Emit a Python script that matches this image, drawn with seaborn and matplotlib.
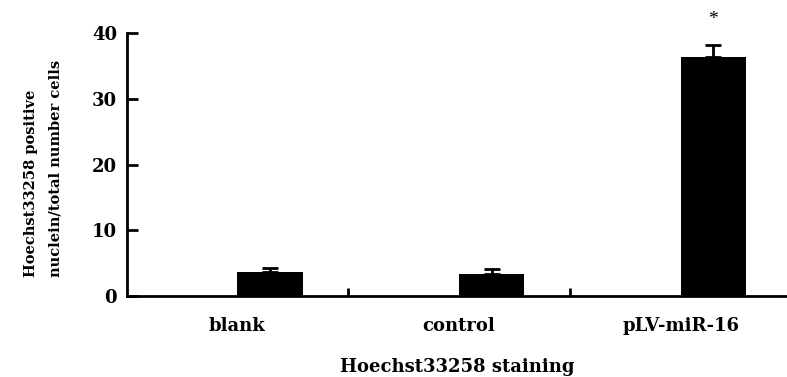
import numpy as np
import pandas as pd
import matplotlib
matplotlib.use("Agg")
import matplotlib.pyplot as plt
import seaborn as sns

# values
groups = ["blank", "control", "pLV-miR-16"]
ratio_mean = [3.65, 3.35, 36.3]
ratio_err = [0.6, 0.7, 1.9]
marks = ["", "", "*"]

sns.set_theme(style="white")
plt.rcParams["font.family"] = ["DejaVu Serif"]
plt.rcParams["font.weight"] = "bold"
plt.rcParams["text.color"] = "black"
plt.rcParams["axes.labelcolor"] = "black"

# the figure places each bar in the right half of its category slot,
# so an empty first hue level keeps the left half free
df = pd.DataFrame({
    "group": groups * 2,
    "slot": ["pad"] * 3 + ["value"] * 3,
    "ratio": [0.0] * 3 + ratio_mean,
})

fig = plt.figure(figsize=(7.87, 3.77), dpi=100)
ax = fig.add_axes([0.161, 0.215, 0.839, 0.697])

sns.barplot(
    data=df, x="group", y="ratio", hue="slot", hue_order=["pad", "value"],
    order=groups, palette={"pad": "white", "value": "black"},
    width=0.59, errorbar=None, legend=False, linewidth=0, ax=ax,
)

bars = [p for p in ax.patches if p.get_height() > 0]
bars.sort(key=lambda p: p.get_x())
centers = [p.get_x() + p.get_width() / 2 for p in bars]

ax.errorbar(
    centers, ratio_mean, yerr=[[0] * 3, ratio_err], fmt="none",
    ecolor="black", elinewidth=2, capsize=6, capthick=2, zorder=1,
)
for cx, m, e, s in zip(centers, ratio_mean, ratio_err, marks):
    if s:
        ax.annotate(s, (cx, m + e), xytext=(0, 12), textcoords="offset points",
                    ha="center", va="bottom", fontsize=14, fontweight="normal",
                    family="Liberation Serif", annotation_clip=False)

ax.set_xlim(-0.5, 2.48)
ax.set_ylim(0, 40)
ax.set_yticks([0, 10, 20, 30, 40])
ax.set_xticks([0, 1, 2])
ax.set_xticklabels(groups)
ax.set_xticks([0.5, 1.5], minor=True)

for side in ["top", "right"]:
    ax.spines[side].set_visible(False)
for side in ["left", "bottom"]:
    ax.spines[side].set_linewidth(2)
    ax.spines[side].set_color("black")

ax.tick_params(axis="y", which="major", direction="in", length=8, width=2,
               labelsize=13, pad=7, colors="black", left=True)
ax.tick_params(axis="x", which="major", length=0, labelsize=13, pad=15,
               colors="black")
ax.tick_params(axis="x", which="minor", direction="in", length=6, width=2,
               bottom=True, colors="black")
for lab in ax.get_xticklabels() + ax.get_yticklabels():
    lab.set_fontweight("bold")

ax.set_xlabel("Hoechst33258 staining", fontsize=13, fontweight="bold")
ax.xaxis.set_label_coords(0.5, -0.235)
ax.set_ylabel("Hoechst33258 positive\nnuclein/total number cells",
              fontsize=10.5, fontweight="bold", multialignment="left",
              linespacing=2.0)
ax.yaxis.set_label_coords(-0.097, 0.485)

fig.savefig("out.png", dpi=100)
